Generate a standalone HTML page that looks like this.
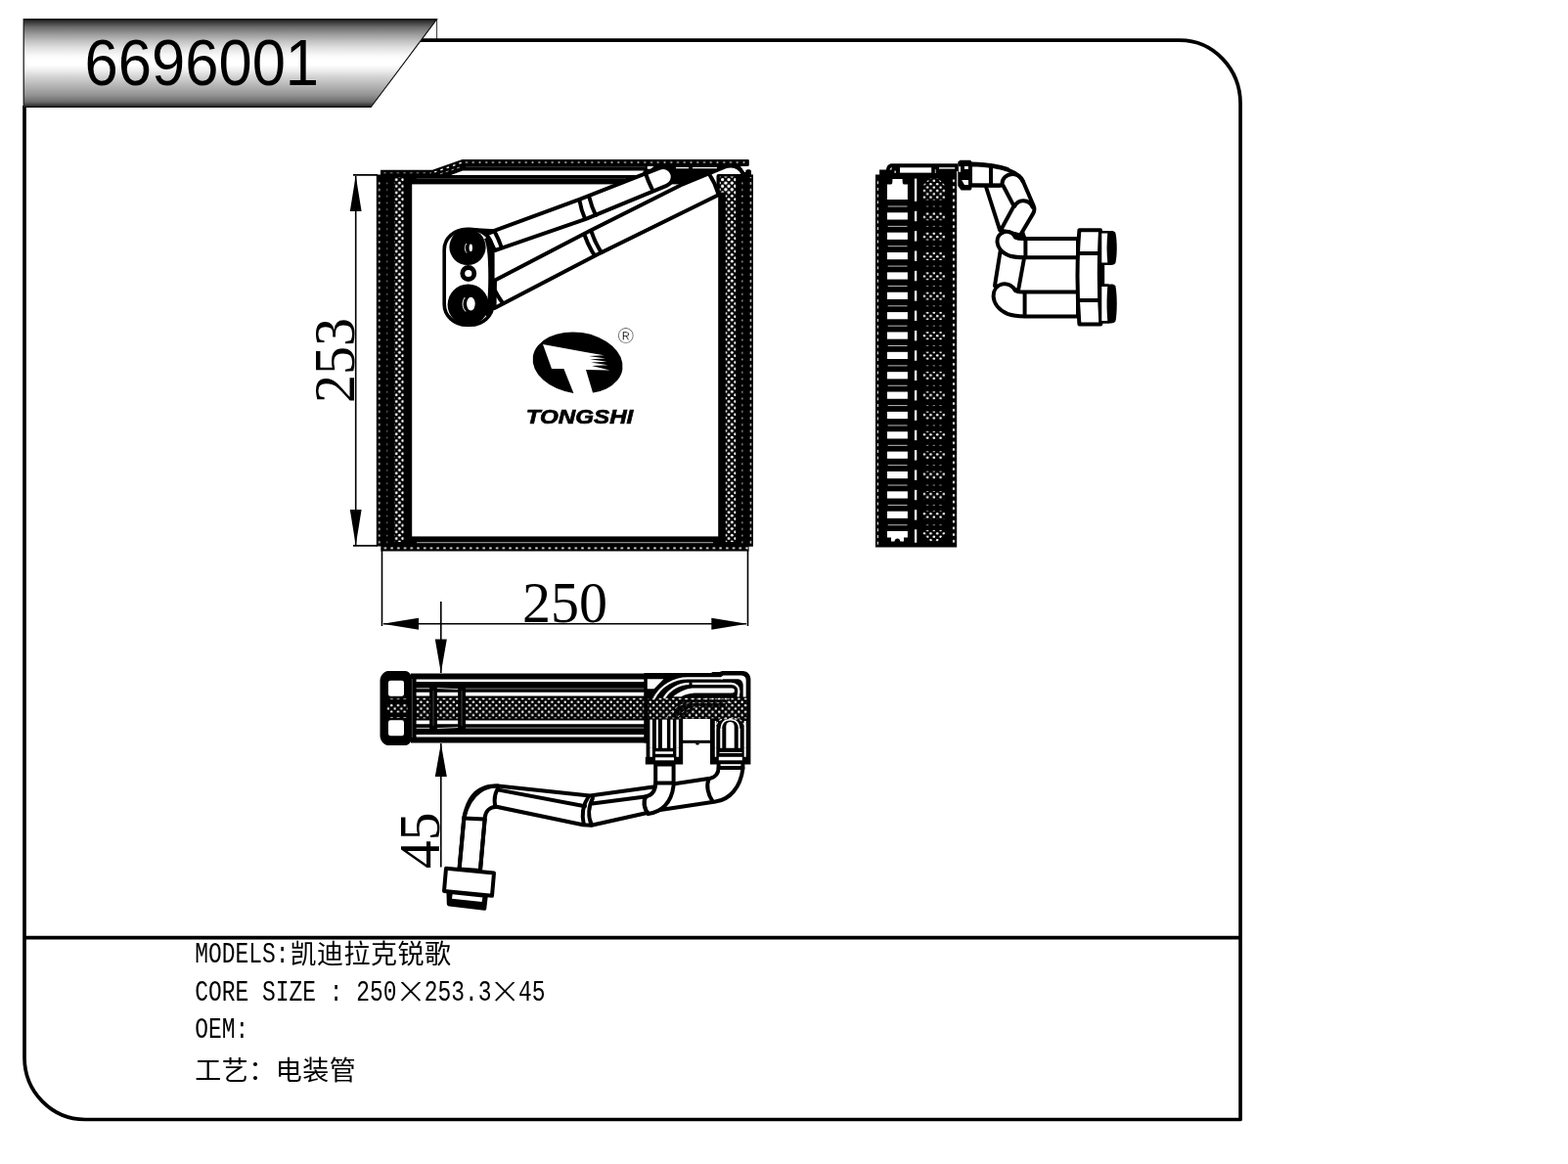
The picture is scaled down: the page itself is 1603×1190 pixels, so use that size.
<!DOCTYPE html>
<html lang="zh">
<head>
<meta charset="utf-8">
<title>6696001</title>
<style>
html,body{margin:0;padding:0;background:#fff;overflow:hidden;}
body{width:1603px;height:1190px;overflow:hidden;}
svg{display:block;will-change:transform;}
text{fill:#000;}
</style>
</head>
<body>
<svg width="1603" height="1190" viewBox="0 0 1603 1190">
<rect width="1603" height="1190" fill="#fff"/>

<defs>
<linearGradient id="bg" x1="0" y1="19.7" x2="0" y2="109.5" gradientUnits="userSpaceOnUse">
<stop offset="0" stop-color="#0c0c0c"/>
<stop offset="0.02" stop-color="#2e2e2e"/>
<stop offset="0.09" stop-color="#6c6c6c"/>
<stop offset="0.17" stop-color="#9a9a9a"/>
<stop offset="0.25" stop-color="#c2c2c2"/>
<stop offset="0.33" stop-color="#e2e2e2"/>
<stop offset="0.41" stop-color="#f8f8f8"/>
<stop offset="0.46" stop-color="#fff"/>
<stop offset="0.52" stop-color="#fff"/>
<stop offset="0.58" stop-color="#efefef"/>
<stop offset="0.66" stop-color="#d2d2d2"/>
<stop offset="0.76" stop-color="#b4b4b4"/>
<stop offset="0.86" stop-color="#949494"/>
<stop offset="0.94" stop-color="#6c6c6c"/>
<stop offset="0.985" stop-color="#333"/>
<stop offset="1" stop-color="#0c0c0c"/>
</linearGradient>
</defs>

<g id="frame" fill="none" stroke="#000" stroke-width="3.7" stroke-linejoin="round">
<path d="M25 108 V1081 A62 63.5 0 0 0 87 1144.5 H1268.1 V106 A62 65 0 0 0 1206 41.2 H429.5"/>
<path d="M25 958.6 H1268"/>
</g>
<path d="M24.2 19.7 H446.6 L379.2 109.5 H24.2 Z" fill="url(#bg)" stroke="#111" stroke-width="1.2"/>
<path d="M446.6 20 V40" stroke="#000" stroke-width="0.8" fill="none"/>
<text x="86.6" y="86.9" font-family="'Liberation Sans', sans-serif" font-size="67.5" textLength="239.5" lengthAdjust="spacingAndGlyphs" fill="#000">6696001</text>
<g id="info" fill="#000">
<text><tspan x="199.20" y="983.7" textLength="96.25" lengthAdjust="spacingAndGlyphs" font-family="'Liberation Mono', monospace" font-size="29.4">MODELS:</tspan><tspan x="296.50 324.00 351.50 379.00 406.50 434.00" y="984.5" font-family="'Liberation Sans', 'Noto Sans CJK SC', sans-serif" font-size="27">凯迪拉克锐歌</tspan></text>
<text><tspan x="199.20" y="1022.5" textLength="206.25" lengthAdjust="spacingAndGlyphs" font-family="'Liberation Mono', monospace" font-size="29.4">CORE SIZE : 250</tspan><tspan x="420.00" y="1030.6" font-family="'Liberation Serif', serif" font-size="52" stroke="#fff" stroke-width="0.7" text-anchor="middle">×</tspan><tspan x="433.75" y="1022.5" textLength="68.75" lengthAdjust="spacingAndGlyphs" font-family="'Liberation Mono', monospace" font-size="29.4">253.3</tspan><tspan x="516.25" y="1030.6" font-family="'Liberation Serif', serif" font-size="52" stroke="#fff" stroke-width="0.7" text-anchor="middle">×</tspan><tspan x="530.00" y="1022.5" textLength="27.50" lengthAdjust="spacingAndGlyphs" font-family="'Liberation Mono', monospace" font-size="29.4">45</tspan></text>
<text><tspan x="199.20" y="1060.5" textLength="55.00" lengthAdjust="spacingAndGlyphs" font-family="'Liberation Mono', monospace" font-size="29.4">OEM:</tspan></text>
<text><tspan x="199.25 226.75 254.25 281.75 309.25 336.75" y="1103.6" font-family="'Liberation Sans', 'Noto Sans CJK SC', sans-serif" font-size="27">工艺：电装管</tspan></text>
</g>
<g id="dims" stroke="#000" stroke-width="1.6" fill="none">
<path d="M361 178.9 H386 M361 557.9 H386 M363.7 180 V557"/>
<path d="M390.5 563 V640 M764.5 563 V640 M392 637.7 H763"/>
<path d="M450.8 615 V688 M450.8 760 V886.5"/>
</g>
<g id="arrows" fill="#000">
<path d="M363.7 179.5 L357.8 216 H369.6 Z"/>
<path d="M363.7 557.5 L357.8 521 H369.6 Z"/>
<path d="M391.2 637.7 L428 631.7 V643.7 Z"/>
<path d="M763.8 637.7 L727.3 631.7 V643.7 Z"/>
<path d="M450.8 688 L444.8 653.4 H456.8 Z"/>
<path d="M450.8 760 L444.8 794 H456.8 Z"/>
</g>
<text x="577.6" y="636.2" text-anchor="middle" textLength="87" font-family="'Liberation Serif', serif" font-size="60" lengthAdjust="spacingAndGlyphs">250</text>
<text transform="translate(362.2 368.5) rotate(-90)" text-anchor="middle" textLength="87" font-family="'Liberation Serif', serif" font-size="60" lengthAdjust="spacingAndGlyphs">253</text>
<text transform="translate(449 859.2) rotate(-90)" text-anchor="middle" textLength="57.5" font-family="'Liberation Serif', serif" font-size="60" lengthAdjust="spacingAndGlyphs">45</text>
<defs>
<pattern id="fL" patternUnits="userSpaceOnUse" width="6.5" height="6.67" patternTransform="translate(403.57 188.73)"><circle cx="1.625" cy="1.667" r="1.4" fill="#fff"/><circle cx="4.875" cy="5.002" r="1.4" fill="#fff"/></pattern>
<pattern id="fR" patternUnits="userSpaceOnUse" width="6.5" height="6.67" patternTransform="translate(743.48 188.73)"><circle cx="1.625" cy="1.667" r="1.4" fill="#fff"/><circle cx="4.875" cy="5.002" r="1.4" fill="#fff"/></pattern>
<pattern id="fLa" patternUnits="userSpaceOnUse" width="40" height="6.67" patternTransform="translate(367.70 184.06)"><rect x="19.20" y="2.33" width="1.6" height="2.0" fill="#fff" opacity="0.9"/></pattern>
<pattern id="fLb" patternUnits="userSpaceOnUse" width="40" height="6.67" patternTransform="translate(375.70 184.06)"><rect x="19.45" y="2.54" width="1.1" height="1.6" fill="#fff" opacity="0.75"/></pattern>
<pattern id="fRa" patternUnits="userSpaceOnUse" width="40" height="6.67" patternTransform="translate(747.40 184.06)"><rect x="19.25" y="2.04" width="1.5" height="2.6" fill="#fff" opacity="1"/></pattern>
<pattern id="fRb" patternUnits="userSpaceOnUse" width="40" height="6.67" patternTransform="translate(738.80 184.06)"><rect x="19.30" y="2.44" width="1.4" height="1.8" fill="#fff" opacity="0.75"/></pattern>
<pattern id="fTop" patternUnits="userSpaceOnUse" width="6.75" height="40" patternTransform="translate(473.62 146.10)"><rect x="2.48" y="19.25" width="1.8" height="1.5" fill="#fff" opacity="0.85"/></pattern>
<pattern id="fTop2" patternUnits="userSpaceOnUse" width="6.72" height="40" patternTransform="translate(390.04 156.60)"><rect x="2.26" y="19.50" width="2.2" height="1.0" fill="#fff" opacity="0.85"/></pattern>
<pattern id="fBot" patternUnits="userSpaceOnUse" width="6.72" height="40" patternTransform="translate(390.54 540.40)"><rect x="2.16" y="19.15" width="2.4" height="1.7" fill="#fff" opacity="1"/></pattern>
</defs>
<g id="front">
<path fill="#000" d="M389 178.5 V173.8 H442 L472.5 163.1 H764.6 C765.3 163.1 765.8 163.6 765.8 164.3 V168.8 C765.8 169.5 765.3 170 764.6 170 H757 L761 176 H762.3 V175 C762.3 172.6 768 172.6 768 175 V178.4 H769.9 V558.8 H765.6 V563.5 H389.3 V558.6 H384.8 V178.5 Z"/>
<rect x="421.2" y="188.4" width="313" height="360" fill="#fff"/>
<path fill="#fff" d="M461 179.1 L473 174.6 H660 V179.1 Z"/>
<path stroke="#484848" stroke-width="0.7" fill="none" d="M476 170.6 H660 M426 182.6 H640 M426 554.7 H729"/>
<path stroke="#fff" stroke-width="0.7" fill="none" d="M426 554.7 H729" opacity="0.8"/>
<rect x="474" y="164.5" width="290" height="3.2" fill="url(#fTop)"/>
<rect x="391" y="175.6" width="50" height="2.2" fill="url(#fTop2)"/>
<path stroke="#fff" stroke-width="1.3" stroke-dasharray="2.6 4.1" fill="none" d="M444 176 L472 166.3" />
<path stroke="#fff" stroke-width="0.8" stroke-dasharray="3 3" fill="none" d="M450 177.8 L470 171" opacity="0.8"/>
<rect x="391" y="559" width="374" height="3" fill="url(#fBot)"/>
<rect x="403.4" y="181.5" width="9.2" height="372.5" fill="url(#fL)"/>
<rect x="386.5" y="184" width="2.6" height="374" fill="url(#fLa)"/>
<rect x="395" y="184" width="1.6" height="374" fill="url(#fLb)"/>
<rect x="741.8" y="196" width="10.4" height="358" fill="url(#fR)"/>
<rect x="735.8" y="180.5" width="16.4" height="16" fill="url(#fR)"/>
<rect x="766.4" y="184" width="2.2" height="372" fill="url(#fRa)"/>
<rect x="758" y="184" width="1.8" height="372" fill="url(#fRb)"/>
<path fill="#fff" stroke="#000" stroke-width="4" stroke-linejoin="round" stroke-linecap="round" d="M506 286.5 L603 236 L696 189.2 L741.5 170.4 C749 168.4 756.5 170.6 759.8 178.4 L760 180 L734.5 180 L734.5 199.3 L613.9 258.6 L505.5 315 Z"/>
<path fill="#000" d="M734.5 178.8 H769.8 V200 H752.5 V181 H734.5 Z"/>
<rect x="735.8" y="180.5" width="16.4" height="16" fill="url(#fR)"/>
<rect x="766.4" y="181" width="2.2" height="20" fill="url(#fRa)"/>
<rect x="758" y="184" width="1.8" height="17" fill="url(#fRb)"/>
<path fill="none" stroke="#000" stroke-width="4" stroke-linejoin="round" stroke-linecap="round" d="M725 178 C729 184 732 190 734.3 198"/>
<path stroke="#fff" stroke-width="1.4" fill="none" d="M691 171.6 H704 M708 171.6 H733"/>
<path fill="#fff" stroke="#000" stroke-width="4" stroke-linejoin="round" stroke-linecap="round" d="M497 238.6 L504 236.4 L593 203.6 L674.6 171.6 A9.6 9.6 0 0 1 681.4 189.8 L599 223.8 L506 256 Z"/>
<path fill="none" stroke="#000" stroke-width="4" stroke-linejoin="round" stroke-linecap="round" stroke-width="3" d="M506.5 238.5 C509 243 511 248 512.5 252.5 M592.5 205 C593.5 211 595 217 598 223.5 M602.5 202 C604 208 606 214 609 220 M659.5 176 C661.5 182 664 188 666.5 193 M597.5 240 C600 247 603 254 607.5 260.5 M604.5 236.5 C607 244 610 251 614.5 257.5 M506 297 C508 301 510.5 305 513 308.5"/>
<path fill="#fff" d="M661.8 170.1 H668.4 L665 172.7 H661.8 Z"/>
<rect x="454.2" y="234.2" width="49.6" height="98" rx="23" ry="21" fill="#fff" stroke="#000" stroke-width="3.6"/>
<path stroke="#000" stroke-width="5.6" fill="none" d="M497.5 243 C503.6 254 503.6 312 497.5 323"/>
<path fill="#000" d="M484 233 L505.5 234.2 L505.5 238.4 L497 241.5 Z"/>
<circle cx="478" cy="252.5" r="18.6" fill="#000"/>
<circle cx="478.6" cy="311.5" r="21" fill="#000"/>
<circle cx="478.8" cy="279.5" r="6" fill="#fff" stroke="#000" stroke-width="4.8"/>
<ellipse cx="481.3" cy="253.3" rx="1.7" ry="3.8" fill="#fff"/>
<path d="M476.8 249 C474.8 252 474.8 255.5 477 258.5" stroke="#fff" stroke-width="0.9" fill="none"/>
<ellipse cx="481.4" cy="310.6" rx="4.3" ry="6.8" fill="#fff"/>
<path d="M475.2 304 C472 309 472.5 314.5 476 318.5" stroke="#fff" stroke-width="1" fill="none"/>
<g id="logo">
<ellipse cx="590.6" cy="371" rx="46.2" ry="31.2" transform="rotate(8 590.6 371)" fill="#000"/>
<path fill="#fff" d="M555 352 L600 360.3 L617.5 363.2 L602 364 L619 366.5 L603 367.3 L620.5 369.8 L604 370.6 L621.5 373.3 L605 374 L623.5 378.6 L599 378 L606.8 404 L587.2 404 L576.4 377 L564 377 Z"/>
<text x="639.7" y="350.9" text-anchor="middle" font-family="'Liberation Sans', sans-serif" font-size="22.4" stroke="#fff" stroke-width="0.45">®</text>
<text x="537.8" y="432.6" font-family="'Liberation Sans', sans-serif" font-weight="bold" font-style="italic" font-size="20.6" textLength="109.5" lengthAdjust="spacingAndGlyphs" stroke="#000" stroke-width="0.7">TONGSHI</text>
</g>
</g>
<defs>
<pattern id="sD" patternUnits="userSpaceOnUse" width="6.7" height="6.74" patternTransform="translate(953.18 183.12)"><circle cx="1.675" cy="1.685" r="1.3" fill="#fff"/><circle cx="5.025" cy="5.055" r="1.3" fill="#fff"/></pattern>
<pattern id="sLa" patternUnits="userSpaceOnUse" width="40" height="6.7" patternTransform="translate(877.40 183.35)"><rect x="19.25" y="1.85" width="1.5" height="3.0" fill="#fff" opacity="1"/></pattern>
<pattern id="sRa" patternUnits="userSpaceOnUse" width="40" height="6.7" patternTransform="translate(954.90 181.45)"><rect x="18.95" y="2.20" width="2.1" height="2.3" fill="#fff" opacity="1"/></pattern>
</defs>
<g id="side">
<path fill="#000" d="M895 559.6 V178.4 H899.1 V173.6 H906 C906.4 169.5 908.5 167.2 912 167.2 H979.4 V175 H978.2 V559.6 Z"/>
<rect x="920" y="171.3" width="32.2" height="5.3" fill="#fff"/>
<rect x="960" y="171.2" width="16.2" height="1.4" fill="#fff"/>
<rect x="955.8" y="173.2" width="0.9" height="3.8" fill="#fff" opacity="0.8"/>
<path fill="#fff" d="M909.5 173.5 L911.5 170.6 L911.5 173.5 Z"/>
<rect x="914.4" y="174.6" width="1.6" height="2.2" fill="#fff" opacity="0.8"/>
<rect x="896.4" y="183" width="2" height="374" fill="url(#sLa)"/>
<rect x="973.6" y="182" width="2.6" height="376" fill="url(#sRa)"/>
<path fill="#fff" d="M907 203.9 V188.6 H910.6 C912.4 188.6 912.4 186.6 912.4 183 H922.6 C922.6 186.6 922.6 188.6 924.4 188.6 H927.9 V203.9 Z"/>
<rect x="934.95" y="182.6" width="2.3" height="23.2" fill="#fff"/>
<path fill="url(#sD)" d="M943.6 204.6 V189.5 L950.5 182.6 H959.2 L966.2 189.5 V204.6 Z"/>
<rect x="907" y="217.30" width="20.9" height="7.2" fill="#fff"/>
<rect x="934.95" y="215.80" width="2.3" height="10.4" fill="#fff"/>
<rect x="943.6" y="217.00" width="22.6" height="8.2" fill="url(#sD)"/>
<rect x="907" y="237.66" width="20.9" height="7.2" fill="#fff"/>
<rect x="934.95" y="236.16" width="2.3" height="10.4" fill="#fff"/>
<rect x="943.6" y="237.36" width="22.6" height="8.2" fill="url(#sD)"/>
<rect x="907" y="258.02" width="20.9" height="7.2" fill="#fff"/>
<rect x="934.95" y="256.52" width="2.3" height="10.4" fill="#fff"/>
<rect x="943.6" y="257.72" width="22.6" height="8.2" fill="url(#sD)"/>
<rect x="907" y="278.38" width="20.9" height="7.2" fill="#fff"/>
<rect x="934.95" y="276.88" width="2.3" height="10.4" fill="#fff"/>
<rect x="943.6" y="278.08" width="22.6" height="8.2" fill="url(#sD)"/>
<rect x="907" y="298.74" width="20.9" height="7.2" fill="#fff"/>
<rect x="934.95" y="297.24" width="2.3" height="10.4" fill="#fff"/>
<rect x="943.6" y="298.44" width="22.6" height="8.2" fill="url(#sD)"/>
<rect x="907" y="319.10" width="20.9" height="7.2" fill="#fff"/>
<rect x="934.95" y="317.60" width="2.3" height="10.4" fill="#fff"/>
<rect x="943.6" y="318.80" width="22.6" height="8.2" fill="url(#sD)"/>
<rect x="907" y="339.46" width="20.9" height="7.2" fill="#fff"/>
<rect x="934.95" y="337.96" width="2.3" height="10.4" fill="#fff"/>
<rect x="943.6" y="339.16" width="22.6" height="8.2" fill="url(#sD)"/>
<rect x="907" y="359.82" width="20.9" height="7.2" fill="#fff"/>
<rect x="934.95" y="358.32" width="2.3" height="10.4" fill="#fff"/>
<rect x="943.6" y="359.52" width="22.6" height="8.2" fill="url(#sD)"/>
<rect x="907" y="380.18" width="20.9" height="7.2" fill="#fff"/>
<rect x="934.95" y="378.68" width="2.3" height="10.4" fill="#fff"/>
<rect x="943.6" y="379.88" width="22.6" height="8.2" fill="url(#sD)"/>
<rect x="907" y="400.54" width="20.9" height="7.2" fill="#fff"/>
<rect x="934.95" y="399.04" width="2.3" height="10.4" fill="#fff"/>
<rect x="943.6" y="400.24" width="22.6" height="8.2" fill="url(#sD)"/>
<rect x="907" y="420.90" width="20.9" height="7.2" fill="#fff"/>
<rect x="934.95" y="419.40" width="2.3" height="10.4" fill="#fff"/>
<rect x="943.6" y="420.60" width="22.6" height="8.2" fill="url(#sD)"/>
<rect x="907" y="441.26" width="20.9" height="7.2" fill="#fff"/>
<rect x="934.95" y="439.76" width="2.3" height="10.4" fill="#fff"/>
<rect x="943.6" y="440.96" width="22.6" height="8.2" fill="url(#sD)"/>
<rect x="907" y="461.62" width="20.9" height="7.2" fill="#fff"/>
<rect x="934.95" y="460.12" width="2.3" height="10.4" fill="#fff"/>
<rect x="943.6" y="461.32" width="22.6" height="8.2" fill="url(#sD)"/>
<rect x="907" y="481.98" width="20.9" height="7.2" fill="#fff"/>
<rect x="934.95" y="480.48" width="2.3" height="10.4" fill="#fff"/>
<rect x="943.6" y="481.68" width="22.6" height="8.2" fill="url(#sD)"/>
<rect x="907" y="502.34" width="20.9" height="7.2" fill="#fff"/>
<rect x="934.95" y="500.84" width="2.3" height="10.4" fill="#fff"/>
<rect x="943.6" y="502.04" width="22.6" height="8.2" fill="url(#sD)"/>
<rect x="907" y="522.70" width="20.9" height="7.2" fill="#fff"/>
<rect x="934.95" y="521.20" width="2.3" height="10.4" fill="#fff"/>
<rect x="943.6" y="522.40" width="22.6" height="8.2" fill="url(#sD)"/>
<rect x="907.7" y="210.50" width="19.8" height="1" fill="#bbb"/>
<path stroke="#888" stroke-width="1" stroke-dasharray="2.4 4.3" d="M946.9 211.00 H964"/>
<rect x="907.7" y="230.86" width="19.8" height="1" fill="#bbb"/>
<path stroke="#888" stroke-width="1" stroke-dasharray="2.4 4.3" d="M946.9 231.36 H964"/>
<rect x="907.7" y="251.22" width="19.8" height="1" fill="#bbb"/>
<path stroke="#888" stroke-width="1" stroke-dasharray="2.4 4.3" d="M946.9 251.72 H964"/>
<rect x="907.7" y="271.58" width="19.8" height="1" fill="#bbb"/>
<path stroke="#888" stroke-width="1" stroke-dasharray="2.4 4.3" d="M946.9 272.08 H964"/>
<rect x="907.7" y="291.94" width="19.8" height="1" fill="#bbb"/>
<path stroke="#888" stroke-width="1" stroke-dasharray="2.4 4.3" d="M946.9 292.44 H964"/>
<rect x="907.7" y="312.30" width="19.8" height="1" fill="#bbb"/>
<path stroke="#888" stroke-width="1" stroke-dasharray="2.4 4.3" d="M946.9 312.80 H964"/>
<rect x="907.7" y="332.66" width="19.8" height="1" fill="#bbb"/>
<path stroke="#888" stroke-width="1" stroke-dasharray="2.4 4.3" d="M946.9 333.16 H964"/>
<rect x="907.7" y="353.02" width="19.8" height="1" fill="#bbb"/>
<path stroke="#888" stroke-width="1" stroke-dasharray="2.4 4.3" d="M946.9 353.52 H964"/>
<rect x="907.7" y="373.38" width="19.8" height="1" fill="#bbb"/>
<path stroke="#888" stroke-width="1" stroke-dasharray="2.4 4.3" d="M946.9 373.88 H964"/>
<rect x="907.7" y="393.74" width="19.8" height="1" fill="#bbb"/>
<path stroke="#888" stroke-width="1" stroke-dasharray="2.4 4.3" d="M946.9 394.24 H964"/>
<rect x="907.7" y="414.10" width="19.8" height="1" fill="#bbb"/>
<path stroke="#888" stroke-width="1" stroke-dasharray="2.4 4.3" d="M946.9 414.60 H964"/>
<rect x="907.7" y="434.46" width="19.8" height="1" fill="#bbb"/>
<path stroke="#888" stroke-width="1" stroke-dasharray="2.4 4.3" d="M946.9 434.96 H964"/>
<rect x="907.7" y="454.82" width="19.8" height="1" fill="#bbb"/>
<path stroke="#888" stroke-width="1" stroke-dasharray="2.4 4.3" d="M946.9 455.32 H964"/>
<rect x="907.7" y="475.18" width="19.8" height="1" fill="#bbb"/>
<path stroke="#888" stroke-width="1" stroke-dasharray="2.4 4.3" d="M946.9 475.68 H964"/>
<rect x="907.7" y="495.54" width="19.8" height="1" fill="#bbb"/>
<path stroke="#888" stroke-width="1" stroke-dasharray="2.4 4.3" d="M946.9 496.04 H964"/>
<rect x="907.7" y="515.90" width="19.8" height="1" fill="#bbb"/>
<path stroke="#888" stroke-width="1" stroke-dasharray="2.4 4.3" d="M946.9 516.40 H964"/>
<rect x="907.7" y="536.26" width="19.8" height="1" fill="#bbb"/>
<path stroke="#888" stroke-width="1" stroke-dasharray="2.4 4.3" d="M946.9 536.76 H964"/>
<path fill="#fff" d="M907 543.1 H927.9 V549.5 H924 V553.5 H920.3 C920.3 549.5 914.6 549.5 914.6 553.5 H911 V549.5 H907 Z"/>
<rect x="934.95" y="541.3" width="2.3" height="13.4" fill="#fff"/>
<path fill="url(#sD)" d="M943.6 542 H966.2 V545.5 L958.5 553.5 H951.3 L943.6 545.5 Z"/>
<path fill="#fff" stroke="#000" stroke-width="4" stroke-linejoin="round" stroke-linecap="round" d="M992 168.2 C1008 168.6 1022 170.6 1031 173.8 C1039 176.8 1044 181 1046.6 187 L1056.6 210.2 C1058 213.5 1057.6 216 1056 218.6 L1043 240.5 L1023 235.5 L1036.5 210.6 L1025.8 190.2 L1024 189.6 L992 189.3 Z"/>
<path fill="none" stroke="#000" stroke-width="4" stroke-linejoin="round" stroke-linecap="round" d="M1008.2 191.5 L1022.2 235.4"/>
<path fill="none" stroke="#000" stroke-width="4" stroke-linejoin="round" stroke-linecap="round" d="M1024.4 189 C1024 182.5 1029 178.2 1035 177.9 C1040 177.7 1044 180.5 1046.2 185.8"/>
<path fill="none" stroke="#000" stroke-width="4" stroke-linejoin="round" stroke-linecap="round" stroke-width="7" d="M1037.2 210.8 C1039.2 206.8 1042.8 205 1046.5 205.2 C1050.8 205.4 1054 207.8 1055.6 211.6"/>
<path fill="none" stroke="#000" stroke-width="4" stroke-linejoin="round" stroke-linecap="round" stroke-width="5.6" d="M993 167.6 C1008 168 1020 169.6 1030 172.8"/>
<path fill="none" stroke="#000" stroke-width="4" stroke-linejoin="round" stroke-linecap="round" stroke-width="5" d="M993 189.4 L1022 189.8"/>
<path fill="none" stroke="#000" stroke-width="4" stroke-linejoin="round" stroke-linecap="round" stroke-width="3.6" d="M1013 169.5 V189.5"/>
<path fill="#000" d="M979.3 165.6 L981.6 163.7 H992.2 L993.4 165.6 V193 L992.2 194.6 H982.6 L979.3 190 Z"/>
<rect x="980.2" y="170.2" width="1.8" height="5.6" fill="#fff"/>
<rect x="986" y="170" width="3.9" height="3" fill="#fff"/>
<path fill="#fff" d="M983.2 184 H990 V188.9 H986 Z"/>
<path fill="#fff" stroke="#000" stroke-width="4" stroke-linejoin="round" stroke-linecap="round" d="M1022.6 257 L1017 292 L1041 297 L1047.2 263 Z"/>
<path fill="#fff" stroke="#000" stroke-width="4" stroke-linejoin="round" stroke-linecap="round" d="M1038 242.6 C1036 238 1031 235.8 1026.6 237 C1021.5 238.6 1019 243 1019.6 248 C1020.4 254 1025 259 1033 261.8 C1038 263.2 1043 263.3 1048 263.3 H1102 V244 H1046 C1043 244 1040 243.6 1038 242.6 Z"/>
<path fill="none" stroke="#000" stroke-width="4" stroke-linejoin="round" stroke-linecap="round" stroke-width="3.6" d="M1048.4 244.5 V263"/>
<path fill="#fff" stroke="#000" stroke-width="4" stroke-linejoin="round" stroke-linecap="round" d="M1038 297.2 C1035.5 292 1030 289.4 1025 290.4 C1019 291.8 1015.5 297 1015.6 303 C1016 310 1021 317 1030 320.8 C1036 323 1042 323.4 1048 323.4 H1102 V298.6 H1046 C1043 298.6 1040 298.2 1038 297.2 Z"/>
<path fill="none" stroke="#000" stroke-width="4" stroke-linejoin="round" stroke-linecap="round" stroke-width="3.6" d="M1047.6 299 V323"/>
<path fill="#000" d="M1041 241 L1049.5 243.6 L1046 233.5 Z"/>
<path fill="#fff" stroke="#000" stroke-width="4" stroke-linejoin="round" stroke-linecap="round" d="M1103.4 235.2 H1125 C1123.4 265 1123.4 300 1125.4 331.4 H1103.4 C1101 300 1101 265 1103.4 235.2 Z"/>
<path fill="none" stroke="#000" stroke-width="4" stroke-linejoin="round" stroke-linecap="round" stroke-width="3.6" d="M1102 259 H1123.6 M1102 307 H1123.6"/>
<rect x="1124.6" y="268" width="4.6" height="24" fill="#000"/>
<rect x="1125" y="237.2" width="9" height="32.6" rx="1.5" fill="#fff" stroke="#000" stroke-width="2.6"/>
<path fill="#000" d="M1132.6 236.6 C1136 235.6 1139 236 1140.4 238 C1142.2 246 1142.2 261 1140.4 269 C1139 271 1136 271.4 1132.6 270.4 C1131.2 259 1131.2 248 1132.6 236.6 Z"/>
<rect x="1125" y="291.59999999999997" width="9" height="37.80000000000005" rx="1.5" fill="#fff" stroke="#000" stroke-width="2.6"/>
<path fill="#000" d="M1132.6 291.0 C1136 290.0 1139 290.4 1140.4 292.4 C1142.2 300.4 1142.2 320.6 1140.4 328.6 C1139 330.6 1136 331.0 1132.6 330.0 C1131.2 318.6 1131.2 302.4 1132.6 291.0 Z"/>
</g>
<defs>
<pattern id="tD" patternUnits="userSpaceOnUse" width="6.7" height="6.7" patternTransform="translate(475.62 716.03)"><circle cx="1.675" cy="1.675" r="1.2" fill="#fff"/><circle cx="5.025" cy="5.025" r="1.2" fill="#fff"/></pattern>
</defs>
<g id="topview">
<path fill="#000" d="M396 686 H414 C417 686 419 688 420 690 H422 V758 H420 C419 760 417 762 414 762 H396 C392 761 388.5 757 388.5 752 V696 C388.5 691 392 687 396 686 Z"/>
<rect x="397" y="695.8" width="16" height="16" rx="2.2" fill="#fff"/>
<rect x="397" y="736.2" width="16" height="16" rx="2.2" fill="#fff"/>
<rect x="395.5" y="719.6" width="21" height="9" fill="url(#tD)"/>
<path stroke="#fff" stroke-width="0.9" stroke-dasharray="2.8 3.9" opacity="0.7" d="M399 714.6 H416 M399 733.6 H416"/>
<rect x="420" y="688.5" width="242.5" height="71" fill="#000"/>
<path stroke="#fff" fill="none" stroke-width="2.4" d="M425.6 695.8 H658.5 M425.6 752.3 H658.5"/>
<path stroke="#fff" fill="none" stroke-width="3.7" d="M476 709.6 H658.5 M447 709.6 H468.4 M425.6 709.6 H439.3 M476 738.3 H658.5 M447 738.3 H468.4 M425.6 738.3 H439.3"/>
<path stroke="#777" fill="none" stroke-width="1.2" d="M476 704 H658.5 M476 744.2 H658.5"/>
<path stroke="#ddd" fill="none" stroke-width="0.9" d="M425.6 703.8 H439.3 M447 703.6 L468.4 704.6 M425.6 744.4 H439.3 M447 744.6 L468.4 743.6"/>
<rect x="425.6" y="713.6" width="233" height="20.8" fill="url(#tD)"/>
<rect x="439.4" y="700" width="7.4" height="48" fill="#000"/>
<rect x="468.4" y="700" width="7.4" height="48" fill="#000"/>
<path stroke="#666" stroke-width="0.7" d="M421.3 694 V754 M443 706 V742 M472 706 V742" fill="none"/>
<path fill="#000" d="M658.5 688.1 H727 L728.5 686.9 H735.5 L738.4 686.1 H759.5 C764 686.3 767.2 689.5 767.4 694 V781.4 H726 V735 H698.4 V781.4 H659.8 V774 H660.6 V759.6 H658.5 Z"/>
<path fill="#fff" d="M661.8 694.2 H678.4 L668.7 704.3 H661.8 Z"/>
<path fill="none" stroke="#fff" stroke-width="2.2" d="M668.8 713.8 A38.8 38.8 0 0 1 703 693.3 H739"/>
<path fill="#fff" d="M737 692.3 L739.4 690.4 H758 C761 690.6 762.6 692.4 762.7 695 V712.5 H759.7 V700 C759.5 696.6 757.5 694.5 754.5 694.3 H737 Z"/>
<path fill="none" stroke="#fff" stroke-width="2.3" d="M678.8 713.8 A30.7 30.7 0 0 1 705 698.9 H747.3 C752.5 699.2 755.6 702.5 755.4 707 L754.6 712.4"/>
<rect x="704.4" y="697.2" width="3.2" height="3.6" fill="#000"/>
<path fill="#fff" d="M688.2 712.2 C694 707.6 700 704.4 707.5 703.5 H748.4 A2.5 2.5 0 0 1 748.4 708.5 H710 C704.5 708.8 700 710.3 696.4 712.2 Z"/>
<rect x="662.6" y="713.6" width="101.4" height="20.8" fill="url(#tD)"/>
<path fill="#000" opacity="0.85" d="M694 715.5 H742 V722.5 H716 C707 723 702 728 698 733.5 H687 C689 726 693 720 694 715.5 Z"/>
<path stroke="#fff" stroke-width="0.9" stroke-dasharray="2.6 3.6" opacity="0.75" fill="none" d="M700 714.6 H746 M682 733 C688 724 696 718.6 708 718.4 H748 M693 733 C698 726.5 706 722.6 716 722.4"/>
<rect x="698.4" y="735" width="27.6" height="21.8" fill="#fff"/>
<rect x="698.4" y="759.8" width="27.6" height="30" fill="#fff"/>
<rect x="698" y="756.8" width="28.4" height="3" fill="#000"/>
<rect x="711.2" y="759.4" width="3.6" height="2" rx="0.9" fill="#000"/>
<rect x="664.4" y="735.6" width="2.50" height="29.2" fill="#fff"/>
<rect x="670.9" y="735.6" width="2.00" height="29.2" fill="#fff"/>
<rect x="676.9" y="735.6" width="5.00" height="29.2" fill="#fff"/>
<rect x="685.4" y="735.6" width="2.50" height="29.2" fill="#fff"/>
<rect x="691.4" y="735.6" width="2.50" height="29.2" fill="#fff"/>
<rect x="664.4" y="764.8" width="2.5" height="9" fill="#fff"/>
<rect x="691.4" y="764.8" width="2.5" height="9" fill="#fff"/>
<rect x="670" y="768.3" width="18" height="2.5" fill="#fff"/>
<rect x="670" y="774.3" width="19" height="3" fill="#fff"/>
<rect x="730.8" y="737" width="1.50" height="27.80" fill="#fff"/>
<rect x="736.3" y="745" width="2.00" height="19.80" fill="#fff"/>
<rect x="754.7" y="745" width="2.00" height="19.80" fill="#fff"/>
<rect x="760.7" y="737" width="2.00" height="27.80" fill="#fff"/>
<path fill="#fff" d="M742.3 764.8 V742.5 A4.2 4.6 0 0 1 750.7 742.5 V764.8 Z"/>
<path fill="none" stroke="#fff" stroke-width="1.5" d="M737.3 746 C737.3 738.5 741 735.8 746.5 735.8 C752 735.8 755.7 738.5 755.7 746"/>
<path fill="none" stroke="#fff" stroke-width="1.3" stroke-dasharray="3 2.2" d="M731.5 746 C731.8 736 737 734.6 746.5 734.6 C756 734.6 761.4 736 761.7 746" opacity="0.85"/>
<rect x="735.5" y="768.9" width="23" height="1" fill="#fff"/>
<rect x="734.8" y="773.8" width="24" height="3.5" fill="#fff"/>
<rect x="730.8" y="764.8" width="1.5" height="9" fill="#fff"/>
<rect x="760.7" y="764.8" width="2" height="9" fill="#fff"/>
<path fill="#fff" stroke="#000" stroke-width="4" stroke-linejoin="round" stroke-linecap="round" d="M734.6 781.5 V785 C734.4 790.5 731.5 794.5 726 795.8 L668 804.4 L603 813.4 L509 803.6 C495 802.6 484 809 478.5 822 C476.5 827 475 831 474.4 835.5 L469.5 888.5 L491 890 L495.8 835.5 C496.5 829.5 500.5 825 507.5 824.8 L596 843.3 L604.5 843.8 L675 828 L731.5 819.6 C746 817.5 757 805 759.4 786 V781.5"/>
<path fill="none" stroke="#000" stroke-width="4" stroke-linejoin="round" stroke-linecap="round" stroke-width="2.2" d="M734.6 785 H759.4"/>
<path fill="none" stroke="#000" stroke-width="4" stroke-linejoin="round" stroke-linecap="round" stroke-width="3.6" d="M724.4 797 C722 803 723.4 812 728.6 819.4"/>
<path fill="none" stroke="#000" stroke-width="4" stroke-linejoin="round" stroke-linecap="round" d="M605.5 821.4 L659.5 814.6"/>
<path fill="none" stroke="#000" stroke-width="4" stroke-linejoin="round" stroke-linecap="round" d="M510 807.6 L598 824.2"/>
<path fill="#fff" stroke="#000" stroke-width="4" stroke-linejoin="round" stroke-linecap="round" d="M670.2 781.5 V800.5 C670.2 808 666.5 813 660 814.5 C657.5 819 658 826.5 662.5 832 C676 830.5 686.5 821 688.6 803 V781.5 Z"/>
<path fill="none" stroke="#000" stroke-width="4" stroke-linejoin="round" stroke-linecap="round" stroke-width="3.4" d="M670.2 800.6 H688.6"/>
<path fill="none" stroke="#000" stroke-width="4" stroke-linejoin="round" stroke-linecap="round" stroke-width="3.6" d="M660 814.8 C657.6 819.5 658.4 826.5 662.6 831.8"/>
<path fill="none" stroke="#000" stroke-width="4" stroke-linejoin="round" stroke-linecap="round" stroke-width="3.4" d="M601.8 814 C596.5 822 594.5 833 596.8 843 M606 816 C601.5 824.5 601 835 604.8 843.4"/>
<path fill="none" stroke="#000" stroke-width="4" stroke-linejoin="round" stroke-linecap="round" stroke-width="3.4" d="M509 806 C505.8 811.5 505 818.5 506.4 824.4"/>
<path fill="none" stroke="#000" stroke-width="4" stroke-linejoin="round" stroke-linecap="round" stroke-width="3.4" d="M474.4 836.4 L495.6 837.4"/>
<path fill="none" stroke="#000" stroke-width="4" stroke-linejoin="round" stroke-linecap="round" stroke-width="5" d="M474.2 838 L469.6 888 M495.6 838 L491 889"/>
<path fill="none" stroke="#000" stroke-width="4" stroke-linejoin="round" stroke-linecap="round" stroke-width="5" d="M474.4 836 C476.5 827 481 816 490 809.5 C496 805 502 803.4 509 803.6"/>
<path fill="#fff" stroke="#000" stroke-width="4" stroke-linejoin="round" stroke-linecap="round" stroke-linejoin="miter" d="M456 887.8 L505 892.6 L503 915.8 L454 911 Z"/>
<path fill="#000" d="M456.4 912 L498.8 916 L497.2 929.4 C497 930.4 496 931 495 930.8 L459.2 926.6 C457.6 926.4 456.6 925 456.8 923.6 Z"/>
<path fill="#fff" d="M462.6 914.2 L493.4 917.4 L492.6 922 L462 918.8 Z"/>
</g>
</svg>
</body>
</html>
